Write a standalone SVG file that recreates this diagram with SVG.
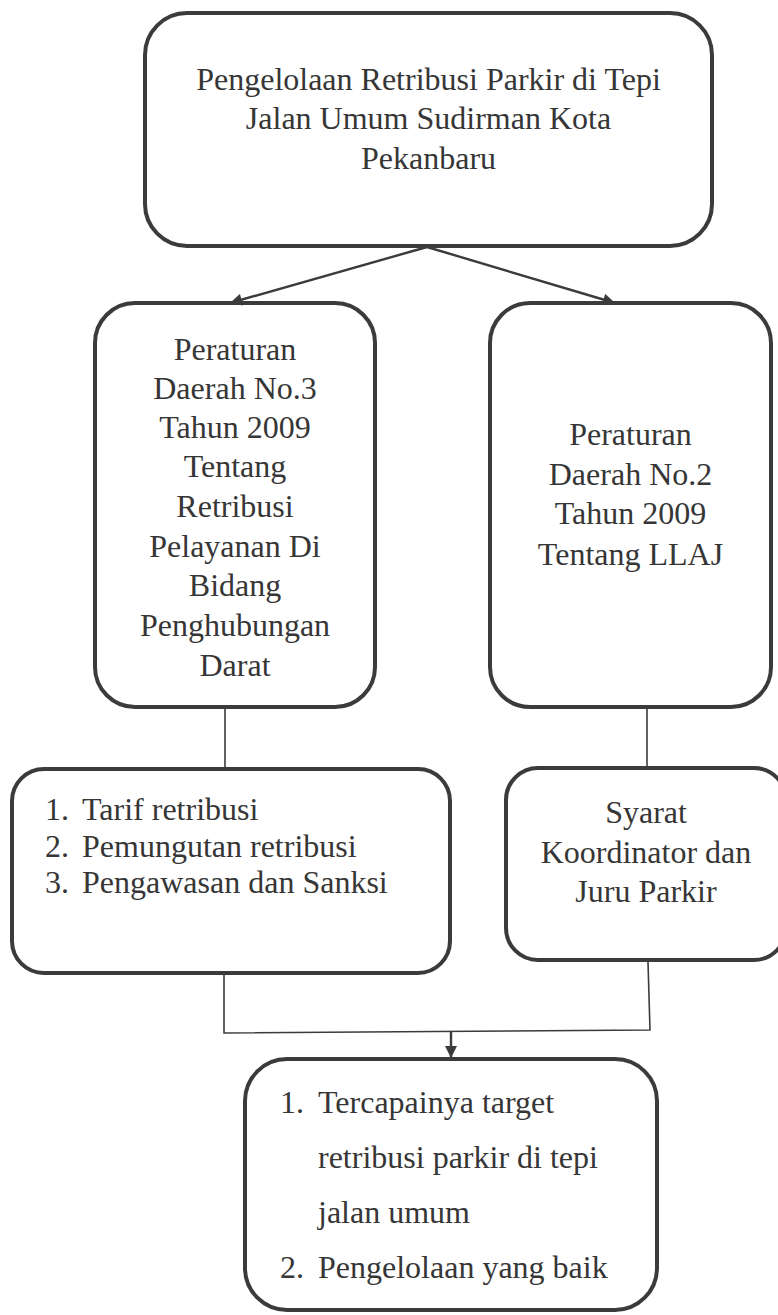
<svg xmlns="http://www.w3.org/2000/svg" width="778" height="1315" viewBox="0 0 778 1315">
<style>
.box{fill:none;stroke:#3b3b3b;stroke-width:4}
.t{font-family:"Liberation Serif","Times New Roman",serif;font-size:32px;fill:#363636}
.c{text-anchor:middle}
.ln{fill:none;stroke:#3b3b3b;stroke-width:1.6}
.ar{fill:none;stroke:#3b3b3b;stroke-width:2.4}
</style>
<defs>
<marker id="ah" viewBox="0 0 10 10" refX="10" refY="5" markerWidth="14" markerHeight="12" markerUnits="userSpaceOnUse" orient="auto">
<path d="M0,0 L10,5 L0,10 z" fill="#3b3b3b"/>
</marker>
</defs>
<rect width="778" height="1315" fill="#fff"/>

<g id="connectors">
<line class="ar" x1="427" y1="247" x2="230" y2="303" marker-end="url(#ah)"/>
<line class="ar" x1="427" y1="247" x2="615" y2="303" marker-end="url(#ah)"/>
<line class="ln" x1="225" y1="707" x2="225" y2="769"/>
<line class="ln" x1="647" y1="707" x2="647" y2="768"/>
<path class="ln" d="M224,973 L224,1033 L650,1030 L648,962"/>
<line class="ar" x1="451" y1="1032" x2="451" y2="1058" marker-end="url(#ah)"/>
</g>

<g id="node-top">
<rect class="box" x="145" y="13" width="567" height="233" rx="42"/>
<text class="t c" x="428.5" y="90">Pengelolaan Retribusi Parkir di Tepi</text>
<text class="t c" x="428.5" y="129">Jalan Umum Sudirman Kota</text>
<text class="t c" x="428.5" y="169">Pekanbaru</text>
</g>

<g id="node-perda3">
<rect class="box" x="95" y="303" width="280" height="404" rx="40"/>
<text class="t c" x="235" y="360">Peraturan</text>
<text class="t c" x="235" y="399">Daerah No.3</text>
<text class="t c" x="235" y="438">Tahun 2009</text>
<text class="t c" x="235" y="477">Tentang</text>
<text class="t c" x="235" y="517">Retribusi</text>
<text class="t c" x="235" y="557">Pelayanan Di</text>
<text class="t c" x="235" y="596">Bidang</text>
<text class="t c" x="235" y="636">Penghubungan</text>
<text class="t c" x="235" y="676">Darat</text>
</g>

<g id="node-perda2">
<rect class="box" x="490" y="303" width="281" height="404" rx="40"/>
<text class="t c" x="630.5" y="445">Peraturan</text>
<text class="t c" x="630.5" y="485">Daerah No.2</text>
<text class="t c" x="630.5" y="524">Tahun 2009</text>
<text class="t c" x="630.5" y="565">Tentang LLAJ</text>
</g>

<g id="node-list">
<rect class="box" x="12" y="769" width="438" height="204" rx="32"/>
<text class="t" x="45" y="820">1.</text><text class="t" x="82" y="820">Tarif retribusi</text>
<text class="t" x="45" y="857">2.</text><text class="t" x="82" y="857">Pemungutan retribusi</text>
<text class="t" x="45" y="893">3.</text><text class="t" x="82" y="893">Pengawasan dan Sanksi</text>
</g>

<g id="node-syarat">
<rect class="box" x="506" y="768" width="280" height="192" rx="32"/>
<text class="t c" x="646" y="823">Syarat</text>
<text class="t c" x="646" y="863">Koordinator dan</text>
<text class="t c" x="646" y="902">Juru Parkir</text>
</g>

<g id="node-result">
<rect class="box" x="245" y="1059" width="412" height="251" rx="42"/>
<text class="t" x="280" y="1113">1.</text><text class="t" x="318" y="1113">Tercapainya target</text>
<text class="t" x="318" y="1168">retribusi parkir di tepi</text>
<text class="t" x="318" y="1223">jalan umum</text>
<text class="t" x="280" y="1278">2.</text><text class="t" x="318" y="1278">Pengelolaan yang baik</text>
</g>
</svg>
